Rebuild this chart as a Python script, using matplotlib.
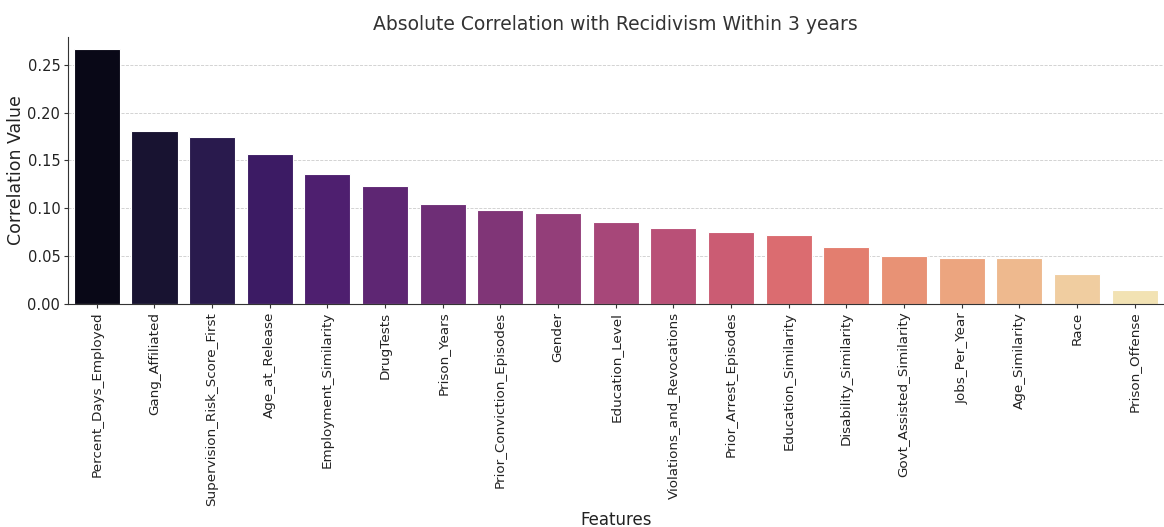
import matplotlib
matplotlib.use('Agg')
import matplotlib.pyplot as plt
import seaborn as sns
import numpy as np

features = ['Percent_Days_Employed', 'Gang_Affiliated', 'Supervision_Risk_Score_First',
            'Age_at_Release', 'Employment_Similarity', 'DrugTests', 'Prison_Years',
            'Prior_Conviction_Episodes', 'Gender', 'Education_Level',
            'Violations_and_Revocations', 'Prior_Arrest_Episodes', 'Education_Similarity',
            'Disability_Similarity', 'Govt_Assisted_Similarity', 'Jobs_Per_Year',
            'Age_Similarity', 'Race', 'Prison_Offense']
correlations = [0.2667, 0.1812, 0.1750, 0.1570, 0.1360, 0.1228, 0.1040, 0.0985,
                0.0955, 0.0860, 0.0795, 0.0755, 0.0720, 0.0600, 0.0502, 0.0483,
                0.0480, 0.0315, 0.0145]

plt.rcParams['font.family'] = ['DejaVu Sans']

fig = plt.figure(figsize=(11.64, 5.27), dpi=100)
ax = fig.add_axes([0.0584, 0.4231, 0.9411, 0.5067])

# seaborn barplot style: magma palette at 0.75 saturation
colors = [sns.desaturate(c, 0.75) for c in sns.color_palette('magma', len(features))]
x = np.arange(len(features))
ax.bar(x, correlations, width=0.8, color=colors, edgecolor='white', linewidth=0.8, zorder=2)

ax.set_xlim(-0.5, len(features) - 0.5)
ax.set_ylim(0, 0.279)
ax.set_yticks([0.0, 0.05, 0.10, 0.15, 0.20, 0.25])
ax.set_yticklabels(['0.00', '0.05', '0.10', '0.15', '0.20', '0.25'])
ax.set_xticks(x)
ax.set_xticklabels(features, rotation=90, fontsize=9.7, color='#222222')
ax.tick_params(axis='y', labelsize=10.5, colors='#222222')
ax.tick_params(axis='both', direction='out', length=3, pad=2.5, color='#333333')

ax.set_title('Absolute Correlation with Recidivism Within 3 years', fontsize=13.5,
             color='#333333', pad=5)
ax.set_xlabel('Features', fontsize=12, color='#222222', labelpad=4)
ax.set_ylabel('Correlation Value', fontsize=12.5, color='#222222')
ax.yaxis.set_label_coords(-0.039, 0.5)

ax.grid(axis='y', linestyle='--', linewidth=0.6, color='#cccccc', zorder=0)
ax.set_axisbelow(True)
ax.spines['top'].set_visible(False)
ax.spines['right'].set_visible(False)
ax.spines['left'].set_color('#333333')
ax.spines['bottom'].set_color('#333333')

fig.savefig('out.png', dpi=100, facecolor='white')
